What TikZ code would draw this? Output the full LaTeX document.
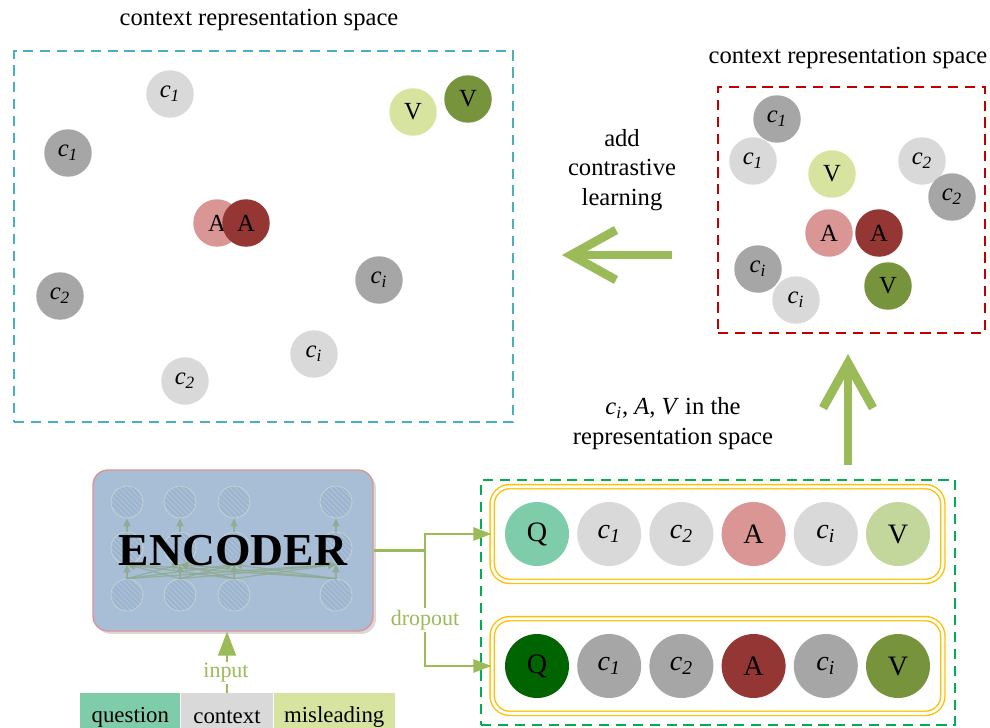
\documentclass[tikz,border=0pt]{standalone}
\usepackage{fontspec}
\setmainfont{Liberation Serif}
\usetikzlibrary{arrows.meta, positioning, fit, shadows, patterns}

\definecolor{spaceblue}{HTML}{4BACC6}
\definecolor{spacered}{HTML}{C00000}
\definecolor{boxgreen}{HTML}{00B050}
\definecolor{gold}{HTML}{FFC000}
\definecolor{arrowgreen}{HTML}{9BBB59}
\definecolor{qlight}{HTML}{7FCCAA}
\definecolor{qdark}{HTML}{006400}
\definecolor{clight}{HTML}{D9D9D9}
\definecolor{cdark}{HTML}{A6A6A6}
\definecolor{alight}{HTML}{D99694}
\definecolor{adark}{HTML}{943634}
\definecolor{vlight}{HTML}{C3D69B}
\definecolor{vpale}{HTML}{D7E4A0}
\definecolor{vdark}{HTML}{77933C}
\definecolor{encfill}{HTML}{A8BDD6}
\definecolor{encborder}{HTML}{D99694}
\definecolor{encunit}{HTML}{9CB3CF}
\definecolor{encstripe}{HTML}{B9CADD}
\definecolor{encedge}{HTML}{8DAA8C}

\newcommand{\cvar}[1]{\textit{c}\textsubscript{\textit{#1}}}

\begin{document}
\begin{tikzpicture}[x=0.02cm, y=-0.02cm,
    dot/.style={circle, minimum size=0.95cm, inner sep=0pt, font=\fontsize{14}{16}\selectfont},
    bigdot/.style={circle, minimum size=1.28cm, inner sep=0pt, font=\fontsize{16}{18}\selectfont},
    titletext/.style={font=\fontsize{14}{17}\selectfont, align=center},
    greentext/.style={font=\fontsize{12.5}{14}\selectfont, text=arrowgreen, fill=white, inner sep=1pt},
    spacebox/.style={draw, dashed, line width=1.4pt, dash pattern=on 5.8pt off 3.8pt},
    rowbox/.style={draw=gold, double=white, line width=0.8pt, double distance=1.6pt,
        rounded corners=0.35cm, inner xsep=0.25cm, inner ysep=0.3cm},
    barcell/.style={anchor=north west, minimum height=0.96cm, inner sep=0pt, font=\fontsize{13}{15}\selectfont},
    encunitnode/.style={circle, minimum size=0.64cm, inner sep=0pt, draw=encedge!40, opacity=0.8,
        preaction={fill=encunit}, pattern=north west lines, pattern color=encstripe},
    encarrow/.style={draw=encedge, opacity=0.8, line width=0.7pt, -{Triangle[length=0.16cm, width=0.14cm]}},
    conn/.style={draw=arrowgreen, line width=1.5pt, -{Triangle[length=0.36cm, width=0.26cm]}},
    bigarrow/.style={draw=arrowgreen, line width=5pt, -{Straight Barb[length=0.9cm, width=1.0cm]}}]

\useasboundingbox (0,0) rectangle (990,727);

% left space (after contrastive learning)
\node[spacebox, draw=spaceblue, minimum width=9.98cm, minimum height=7.42cm] (leftspace) at (263.5,236.5) {};
\node[titletext] (lefttitle) at (259,20) {context representation space};
\node[dot, fill=clight] (l-c1a) at (170,94) {\cvar{1}};
\node[dot, fill=cdark] (l-c1b) at (68,153) {\cvar{1}};
\node[dot, fill=vpale] (l-va) at (413,112) {V};
\node[dot, fill=vdark] (l-vb) at (468,99) {V};
\node[dot, fill=alight] (l-aa) at (217,223) {A};
\node[dot, fill=adark] (l-ab) at (246,223) {A};
\node[dot, fill=cdark] (l-c2b) at (60,296) {\cvar{2}};
\node[dot, fill=cdark] (l-cib) at (379,280) {\cvar{i}};
\node[dot, fill=clight] (l-cia) at (314,354) {\cvar{i}};
\node[dot, fill=clight] (l-c2a) at (185,381) {\cvar{2}};

% right space (before)
\node[spacebox, draw=spacered, minimum width=5.34cm, minimum height=4.92cm] (rightspace) at (851.5,210) {};
\node[titletext] (righttitle) at (848,58) {context representation space};
\node[dot, fill=cdark] (r-c1b) at (777,119) {\cvar{1}};
\node[dot, fill=clight] (r-c1a) at (753,161) {\cvar{1}};
\node[dot, fill=vpale] (r-va) at (832,174) {V};
\node[dot, fill=clight] (r-c2a) at (922,161) {\cvar{2}};
\node[dot, fill=cdark] (r-c2b) at (952,197) {\cvar{2}};
\node[dot, fill=alight] (r-aa) at (829,233) {A};
\node[dot, fill=adark] (r-ab) at (879,233) {A};
\node[dot, fill=vdark] (r-vb) at (888,286) {V};
\node[dot, fill=cdark] (r-cib) at (758,269) {\cvar{i}};
\node[dot, fill=clight] (r-cia) at (796,300) {\cvar{i}};

% contrastive learning arrow
\node[titletext] (addcl) at (622,170) {add\\contrastive\\learning};
\coordinate (cl-from) at (672,255);
\coordinate (cl-to) at (562,255);
\draw[bigarrow] (cl-from) -- (cl-to);

% two dropout views
\node[spacebox, draw=boxgreen, minimum width=9.48cm, minimum height=4.9cm] (views) at (718,602.5) {};
\foreach \i/\txt/\col in {1/Q/qlight, 2/\cvar{1}/clight, 3/\cvar{2}/clight, 4/A/alight, 5/\cvar{i}/clight, 6/V/vlight}
    \node[bigdot, fill=\col] (v1-\i) at ({537+(\i-1)*72.2},534) {\txt};
\foreach \i/\txt/\col in {1/Q/qdark, 2/\cvar{1}/cdark, 3/\cvar{2}/cdark, 4/A/adark, 5/\cvar{i}/cdark, 6/V/vdark}
    \node[bigdot, fill=\col] (v2-\i) at ({537+(\i-1)*72.2},666) {\txt};
\node[rowbox, fit=(v1-1)(v1-6)] (row1) {};
\node[rowbox, fit=(v2-1)(v2-6)] (row2) {};

\node[titletext] (inspace) at (673,424) {\cvar{i}, \textit{A}, \textit{V} in the\\representation space};
\coordinate (up-from) at (848,465);
\coordinate (up-to) at (848,354);
\draw[bigarrow] (up-from) -- (up-to);

% encoder
\node[rounded corners=0.3cm, fill=encfill, draw=encborder, line width=0.8pt,
    minimum width=5.6cm, minimum height=3.22cm,
    drop shadow={opacity=0.3, shadow xshift=0.06cm, shadow yshift=-0.06cm}] (enc) at (233,550.5) {};
\foreach \c/\x in {1/127, 2/180, 3/234, 4/336}
    \foreach \r/\y in {1/502, 2/548, 3/595}
        \node[encunitnode] (e\r-\c) at (\x,\y) {};
\foreach \a in {1,...,4} {
    \foreach \b in {1,...,4}
        \draw[encarrow] (e3-\a.north) -- (e2-\b.south);
    \draw[encarrow] (e2-\a.north) -- (e1-\a.south);
}
\node[font=\fontsize{26}{28}\selectfont\bfseries] (enctext) at (enc) {ENCODER};

\coordinate (split) at (enc.east -| 425,0);
\draw[conn] (enc.east) -- (split) |- (row1.west);
\draw[conn] (split) |- (row2.west);
\node[greentext] (dropout) at (425,620) {dropout};

% input
\node[barcell, fill=qlight, minimum width=2cm] (question) at (80,693) {question};
\node[barcell, fill=clight, minimum width=1.84cm, right=0pt of question] (context) {context};
\node[barcell, fill=vpale, minimum width=2.42cm, right=0pt of context] (misleading) {misleading};
\draw[draw=arrowgreen, line width=1.1pt, -{Triangle[length=0.48cm, width=0.36cm]}] (context.north) -- (context.north |- enc.south);
\node[greentext] (input) at (226,673) {input};

\end{tikzpicture}
\end{document}
